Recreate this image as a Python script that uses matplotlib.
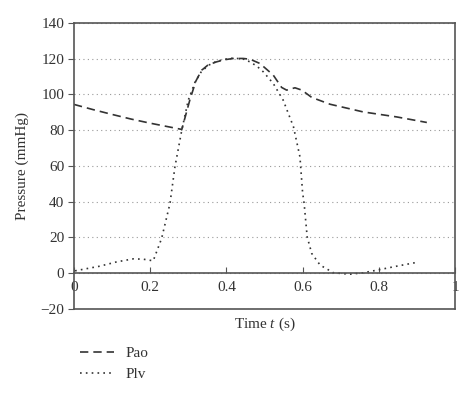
import matplotlib
matplotlib.use("Agg")
import matplotlib.pyplot as plt

plt.rcParams['font.family'] = ['Liberation Serif', 'DejaVu Serif']
plt.rcParams['mathtext.fontset'] = 'custom'
plt.rcParams['mathtext.rm'] = 'Liberation Serif'
plt.rcParams['mathtext.it'] = 'Liberation Serif:italic'

# aortic pressure (dashed)
t_pao = [0.0, 0.05, 0.10, 0.15, 0.20, 0.25, 0.283, 0.304, 0.320, 0.335, 0.352, 0.374, 0.395,
         0.418, 0.444, 0.462, 0.488, 0.523, 0.545, 0.558, 0.580, 0.598, 0.624, 0.672,
         0.759, 0.847, 0.926]
pao = [94.4, 91.5, 88.8, 86.2, 83.9, 81.8, 80.4, 96.8, 107.5, 113.5, 116.5, 118.2, 119.4,
       120.1, 120.1, 119.7, 117.3, 110.8, 103.9, 102.4, 103.7, 102.4, 98.3, 94.5,
       90.2, 87.4, 84.3]

# left ventricular pressure (dotted)
t_plv = [0.003, 0.068, 0.112, 0.156, 0.182, 0.208, 0.230, 0.252, 0.265, 0.283, 0.300,
         0.318, 0.335, 0.355, 0.374, 0.400, 0.418, 0.444, 0.462, 0.480, 0.497, 0.523,
         0.549, 0.576, 0.593, 0.600, 0.604, 0.612, 0.624, 0.646, 0.681, 0.724, 0.759,
         0.803, 0.847, 0.899]
plv = [1.3, 3.9, 6.3, 8.0, 7.8, 6.9, 19.4, 39.0, 59.5, 80.0, 96.8,
       107.0, 113.0, 116.5, 118.5, 119.8, 120.3, 119.8, 118.2, 115.8, 112.6, 106.1,
       96.8, 81.9, 65.1, 45.0, 39.0, 20.3, 11.0, 4.5, 0.2, -0.6, 0.2,
       2.0, 3.9, 6.0]

y_ticks = [-20, 0, 20, 40, 60, 80, 100, 120, 140]
x_ticks = [0, 0.2, 0.4, 0.6, 0.8, 1]
x_labels = ['0', '0.2', '0.4', '0.6', '0.8', '1']

ink = '#333333'
frame = '#555555'

fig = plt.figure(figsize=(4.74, 3.95), dpi=100)
ax = fig.add_axes([0.156, 0.218, 0.804, 0.724])

ax.plot(t_pao, pao, color=ink, lw=1.2, dashes=(5, 3), label='Pao')
ax.plot(t_plv, plv, color=ink, lw=1.2, dashes=(1, 2.5), label='Plv')

ax.set_xlim(0, 1)
ax.set_ylim(-20, 140)
ax.set_yticks(y_ticks)
ax.set_xticks(x_ticks)
ax.set_xticklabels(x_labels)

ax.yaxis.grid(True, linestyle=(0, (1, 3)), color='#999999', lw=0.8)
ax.set_axisbelow(True)

for s in ax.spines.values():
    s.set_color(frame)
    s.set_linewidth(1.2)
ax.spines['bottom'].set_position(('data', 0))
ax.axhline(-20, color=frame, lw=1.2, clip_on=False)

ax.tick_params(axis='y', direction='out', length=4, color=frame, labelsize=11,
               labelcolor=ink, pad=3)
ax.tick_params(axis='x', direction='in', length=4, color=frame, labelsize=11,
               labelcolor=ink, pad=6)

ax.set_ylabel('Pressure (mmHg)', fontsize=11, color=ink, labelpad=8)
ax.set_xlabel('Time $t$ (s)', fontsize=11, color=ink)
ax.xaxis.set_label_coords(0.5, -0.025)

fig.legend(loc='lower left', bbox_to_anchor=(0.14, 0.0), frameon=False,
           fontsize=11, labelcolor=ink, handlelength=2.2, handletextpad=0.8,
           labelspacing=0.5)

fig.savefig('out.png', dpi=100)
